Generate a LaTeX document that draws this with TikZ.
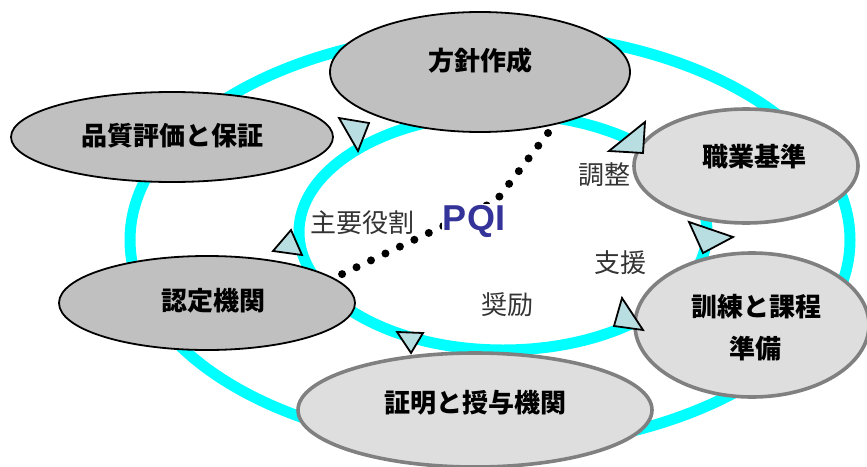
\documentclass[tikz,border=0pt]{standalone}
\usepackage{fontspec}
\setmainfont{Liberation Sans}
\newfontfamily\cjk{Noto Sans CJK JP}
\usetikzlibrary{shapes.geometric}
\definecolor{ringc}{RGB}{0,255,255}
\definecolor{darkg}{RGB}{192,192,192}
\definecolor{lightg}{RGB}{222,222,222}
\definecolor{edgeg}{RGB}{128,128,128}
\definecolor{trif}{RGB}{185,222,226}
\definecolor{pqic}{RGB}{51,51,153}
\definecolor{txtg}{RGB}{51,51,51}
\begin{document}
\begin{tikzpicture}[x=1pt,y=-1pt,
  ring/.style={draw=ringc,line width=11pt},
  darkell/.style={ellipse,draw=black,line width=1.8pt,fill=darkg,inner sep=0pt},
  lightell/.style={ellipse,draw=edgeg,line width=3.6pt,fill=lightg,inner sep=0pt},
  mainlbl/.style={font=\cjk\bfseries\fontsize{26}{30}\selectfont,inner sep=0pt,anchor=base},
  sidelbl/.style={font=\cjk\fontsize{26}{30}\selectfont,text=txtg,inner sep=0pt,anchor=base},
  arrowtri/.style={draw=black,line width=1.8pt,fill=trif,line join=miter},
  dotline/.style={line width=8pt,line cap=round,dash pattern=on 0pt off 16pt}]
\useasboundingbox (0,0) rectangle (867,466);
\fill[white] (0,0) rectangle (867,466);
% rings
\draw[ring] (490,240) ellipse [x radius=360pt, y radius=208pt];
\draw[ring] (503,232) ellipse [x radius=204pt, y radius=118pt];
% ellipses
\node[darkell, minimum width=300pt, minimum height=120pt] (fz) at (480,72) {};
\node[darkell, minimum width=322pt, minimum height=90pt] (qa) at (172,137) {};
\node[darkell, minimum width=296pt, minimum height=94pt] (rd) at (207,303) {};
\node[lightell, minimum width=224pt, minimum height=114pt] (zy) at (746,166) {};
\node[lightell, minimum width=234pt, minimum height=144pt] (xl) at (752,325) {};
\node[lightell, minimum width=354pt, minimum height=114pt] (zm) at (475,410) {};
% triangles
\draw[arrowtri] (339,118) -- (369,123) -- (358,151) -- cycle;
\draw[arrowtri] (645,122) -- (643,153) -- (609,151) -- cycle;
\draw[arrowtri] (689,222) -- (733,237) -- (703,253) -- cycle;
\draw[arrowtri] (622,298) -- (643,330) -- (614,326) -- cycle;
\draw[arrowtri] (397,332) -- (423,333) -- (411,353) -- cycle;
\draw[arrowtri] (291,230) -- (302,255) -- (273,251) -- cycle;
% dotted connector
\coordinate (dA) at (548,133);
\coordinate (dB) at (496,201);
\coordinate (dC) at (336,277);
\draw[dotline] (dA) -- (dB) -- (dC);
% labels
\node[mainlbl] (tfz) at (480,70) {方針作成};
\node[mainlbl] (tqa) at (172,145) {品質評価と保証};
\node[mainlbl] (trd) at (213,310) {認定機関};
\node[mainlbl] (tzy) at (754,166) {職業基準};
\node[mainlbl] (txl1) at (756,316) {訓練と課程};
\node[mainlbl] (txl2) at (755,358) {準備};
\node[mainlbl] (tzm) at (475,412) {証明と授与機関};
\node[sidelbl] (s1) at (604,184) {調整};
\node[sidelbl] (s2) at (362,232) {主要役割};
\node[sidelbl] (s3) at (620,272) {支援};
\node[sidelbl] (s4) at (507,314) {奨励};
\node[font=\bfseries\fontsize{36}{40}\selectfont,text=pqic,fill=white,inner sep=1pt,anchor=base] (pqi) at (474,230) {PQI};
\end{tikzpicture}
\end{document}
